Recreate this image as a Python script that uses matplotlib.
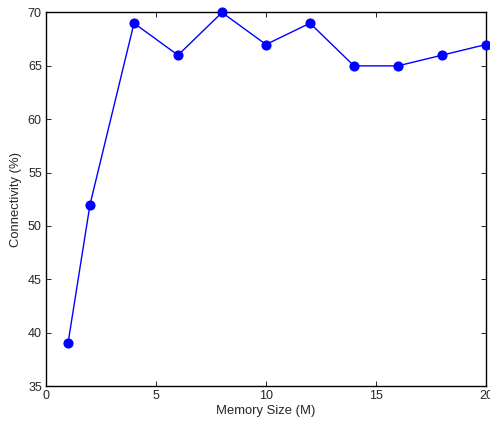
import matplotlib
matplotlib.use("Agg")
import matplotlib.pyplot as plt

plt.rcParams['font.family'] = ['Liberation Sans', 'DejaVu Sans']

memory_size = [1, 2, 4, 6, 8, 10, 12, 14, 16, 18, 20]
connectivity = [39, 52, 69, 66, 70, 67, 69, 65, 65, 66, 67]
x_ticks = [0, 5, 10, 15, 20]
y_ticks = [35, 40, 45, 50, 55, 60, 65, 70]

text_color = '#262626'

fig = plt.figure(figsize=(4.9, 4.23), dpi=100)
ax = fig.add_axes([46/490, 37/423, 440/490, 373.5/423])

ax.plot(memory_size, connectivity, color='#0000ff', linewidth=1.0,
        marker='o', markersize=6.3, markerfacecolor='#0000ff',
        markeredgecolor='#0000ff', clip_on=False, zorder=3)

ax.set_xlim(0, 20)
ax.set_ylim(35, 70)
ax.set_xticks(x_ticks)
ax.set_yticks(y_ticks)
ax.tick_params(direction='in', top=True, right=True, length=3.5, width=0.6,
               labelsize=9, color='black', labelcolor=text_color, pad=3)
for s in ax.spines.values():
    s.set_linewidth(1.0)

ax.set_xlabel('Memory Size (M)', fontsize=9.4, labelpad=2, color=text_color)
ax.set_ylabel('Connectivity (%)', fontsize=9.4, labelpad=4, color=text_color)

fig.savefig('out.png', dpi=100)
